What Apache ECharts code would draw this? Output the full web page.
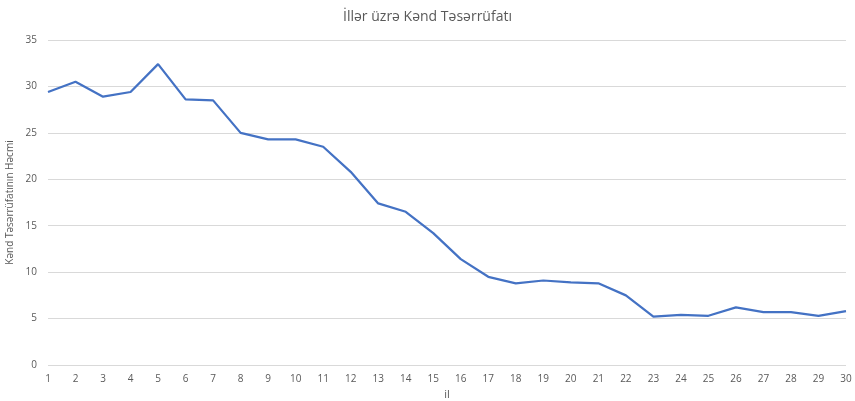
<!DOCTYPE html>
<html><head><meta charset="utf-8">
<script src="https://cdn.jsdelivr.net/npm/echarts@6/dist/echarts.min.js"></script>
<style>html,body{margin:0;padding:0;background:#fff}#c{width:855px;height:401px}</style>
</head><body><div id="c"></div>
<script>
var categories = ['1','2','3','4','5','6','7','8','9','10','11','12','13','14','15','16','17','18','19','20','21','22','23','24','25','26','27','28','29','30'];
var values = [29.4,30.5,28.9,29.4,32.4,28.6,28.5,25.0,24.3,24.3,23.5,20.8,17.4,16.5,14.2,11.4,9.5,8.8,9.1,8.9,8.8,7.5,5.2,5.4,5.3,6.2,5.7,5.7,5.3,5.8];
var titleText = 'İllər üzrə Kənd Təsərrüfatı';
var yName = 'Kənd Təsərrüfatının Həcmi';
var xName = 'il';
var chart = echarts.init(document.getElementById('c'));
var font = '"Open Sans", "Noto Sans", sans-serif';
chart.setOption({
  animation:false,
  title:{text:titleText,left:'center',top:5,textStyle:{color:'#595959',fontSize:14,fontWeight:'normal',fontFamily:font}},
  grid:{left:48,right:9,top:40,bottom:36,outerBoundsMode:'none',containLabel:false},
  xAxis:{type:'category',data:categories,boundaryGap:false,
    name:xName,nameLocation:'middle',nameGap:24,nameTextStyle:{color:'#595959',fontSize:11,fontFamily:font},
    axisLine:{show:false},axisTick:{show:false},
    axisLabel:{color:'#595959',fontSize:10,fontFamily:font,margin:9}},
  yAxis:{type:'value',min:0,max:35,interval:5,
    name:yName,nameLocation:'middle',nameGap:31,nameTextStyle:{color:'#595959',fontSize:10,fontFamily:font},
    axisLine:{show:false},axisTick:{show:false},
    axisLabel:{color:'#595959',fontSize:10,fontFamily:font,margin:11},
    splitLine:{lineStyle:{color:'#d9d9d9',width:1}}},
  series:[{type:'line',data:values,symbol:'none',lineStyle:{color:'#4472C4',width:2.25}}]
});
</script></body></html>
